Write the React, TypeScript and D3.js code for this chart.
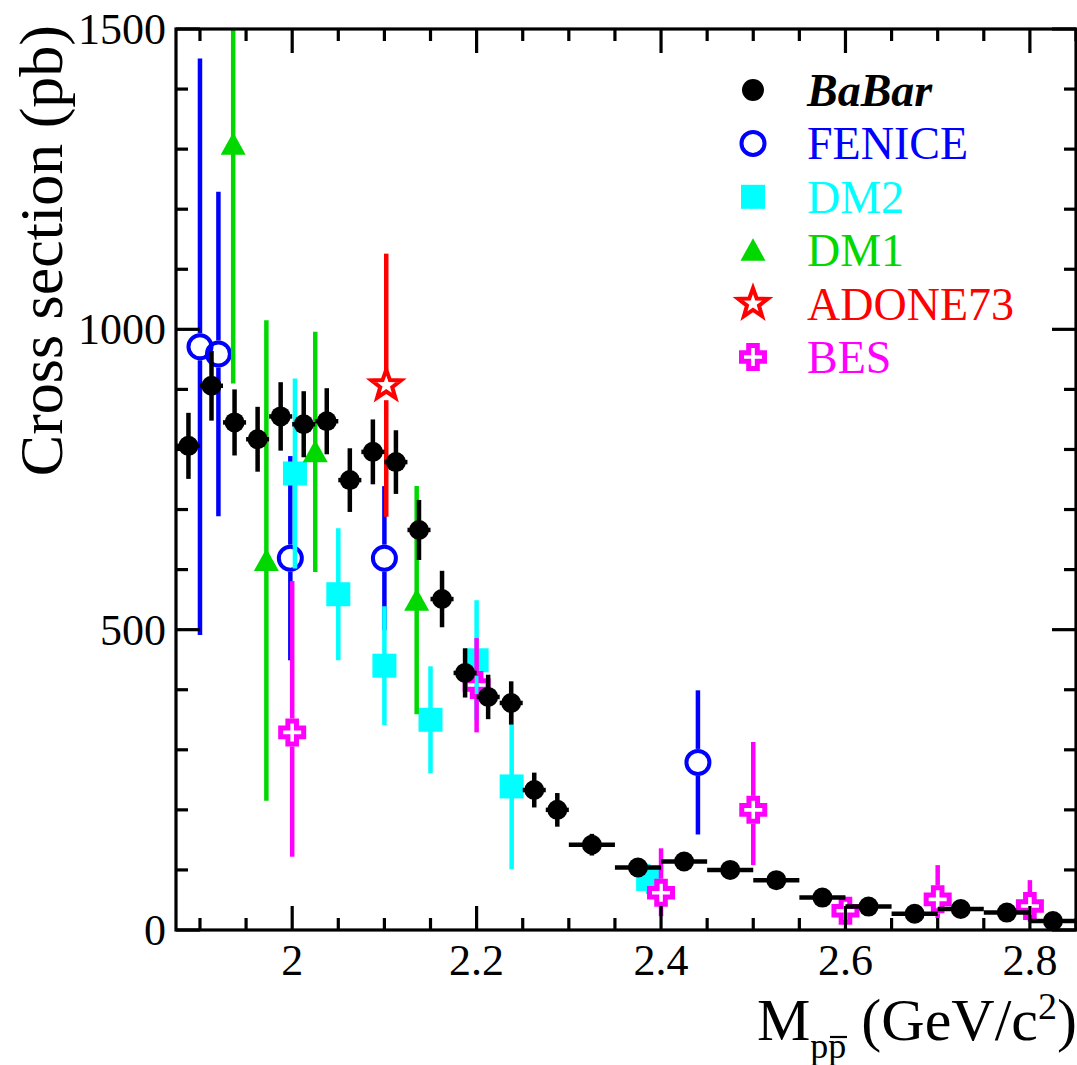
import { useEffect, useRef } from 'react';
import * as d3 from 'd3';

// BaBar measurement (bin centers, cross section, stat error, half bin width)
const babarMass = [1.8875, 1.9125, 1.9375, 1.9625, 1.9875, 2.0125, 2.0375, 2.0625, 2.0875, 2.1125, 2.1375, 2.1625, 2.1875, 2.2125, 2.2375, 2.2625, 2.2875, 2.325, 2.375, 2.425, 2.475, 2.525, 2.575, 2.625, 2.675, 2.725, 2.775, 2.825];
const babarXsec = [806, 906, 845, 817, 855, 842, 847, 749, 796, 779, 666, 551, 428, 388, 378, 233, 200, 142, 104, 114, 100, 83, 54, 39, 27, 35, 29, 15];
const babarErr = [55, 58, 55, 54, 57, 55, 55, 53, 54, 53, 50, 47, 41, 37, 36, 29, 28, 18, 12, 12, 10, 9, 7, 6, 5, 5, 5, 4];
const babarHalfBin = [0.0125, 0.0125, 0.0125, 0.0125, 0.0125, 0.0125, 0.0125, 0.0125, 0.0125, 0.0125, 0.0125, 0.0125, 0.0125, 0.0125, 0.0125, 0.0125, 0.0125, 0.025, 0.025, 0.025, 0.025, 0.025, 0.025, 0.025, 0.025, 0.025, 0.025, 0.025];

const feniceMass = [1.9, 1.92, 1.998, 2.1, 2.44];
const feniceXsec = [971, 959, 619, 619, 279];
const feniceErr = [480, 270, 170, 120, 120];

const dm2Mass = [2.003, 2.05, 2.1, 2.15, 2.2, 2.238, 2.386];
const dm2Xsec = [760, 559, 440, 350, 449, 239, 85];
const dm2Err = [158, 110, 99, 89, 100, 138, 25];

const dm1Mass = [1.936, 1.972, 2.025, 2.135];
const dm1Xsec = [1308, 615, 796, 549];
const dm1Err = [398, 400, 200, 190];

const adoneMass = [2.102];
const adoneXsec = [907];
const adoneErr = [219];

const besMass = [2.0, 2.2, 2.4, 2.5, 2.6, 2.7, 2.8];
const besXsec = [329, 408, 62, 200, 32, 51, 40];
const besErrLo = [207, 79, 39, 92, 15, 31, 26];
const besErrHi = [252, 78, 74, 113, 15, 57, 43];

const xTicks = [2, 2.2, 2.4, 2.6, 2.8];
const xTickLabels = ['2', '2.2', '2.4', '2.6', '2.8'];
const yTicks = [0, 500, 1000, 1500];
const yTickLabels = ['0', '500', '1000', '1500'];

const legendLabels = ['BaBar', 'FENICE', 'DM2', 'DM1', 'ADONE73', 'BES'];

const BLUE = '#0000ff';
const CYAN = '#00ffff';
const GREEN = '#00d800';
const RED = '#ff0000';
const MAGENTA = '#ff00ff';
const FONT = "'Liberation Serif', 'Times New Roman', Times, serif";

export default function App() {
    const svgRef = useRef<SVGSVGElement>(null);

    useEffect(() => {
        if (!svgRef.current) return;
        const svg = d3.select(svgRef.current);
        svg.selectAll('*').remove();

        const W = 1077, H = 1065;
        const left = 176, right = 1076, top = 29, bottom = 930;

        const x = d3.scaleLinear().domain([1.874, 2.85]).range([left, right]);
        const y = d3.scaleLinear().domain([0, 1500]).range([bottom, top]);

        svg.attr('width', W).attr('height', H);
        svg.append('rect').attr('width', W).attr('height', H).attr('fill', '#fff');

        svg.append('defs').append('clipPath').attr('id', 'plot-clip')
            .append('rect')
            .attr('x', left).attr('y', top)
            .attr('width', right - left).attr('height', bottom - top);

        const plot = svg.append('g').attr('clip-path', 'url(#plot-clip)');

        // vertical error bar, optionally leaving a gap round an open marker
        const vbar = (g, cx, v, lo, hi, color, gap = 0) => {
            const cy = y(v);
            const y1 = y(v + hi), y2 = y(v - lo);
            if (gap > 0) {
                if (y1 < cy - gap) g.append('line').attr('x1', cx).attr('x2', cx).attr('y1', y1).attr('y2', cy - gap)
                    .attr('stroke', color).attr('stroke-width', 4.5);
                if (y2 > cy + gap) g.append('line').attr('x1', cx).attr('x2', cx).attr('y1', cy + gap).attr('y2', y2)
                    .attr('stroke', color).attr('stroke-width', 4.5);
            } else {
                g.append('line').attr('x1', cx).attr('x2', cx).attr('y1', y1).attr('y2', y2)
                    .attr('stroke', color).attr('stroke-width', 4.5);
            }
        };

        const drawOpenCircle = (g, cx, cy) => g.append('circle')
            .attr('cx', cx).attr('cy', cy).attr('r', 11.5)
            .attr('fill', 'none').attr('stroke', BLUE).attr('stroke-width', 4);
        const drawSquare = (g, cx, cy) => g.append('rect')
            .attr('x', cx - 12).attr('y', cy - 12).attr('width', 24).attr('height', 24)
            .attr('fill', CYAN);
        const drawTriangle = (g, cx, cy) => g.append('path')
            .attr('d', `M${cx},${cy - 12}L${cx + 12.5},${cy + 10.5}L${cx - 12.5},${cy + 10.5}Z`)
            .attr('fill', GREEN);
        const starPts = (cx, cy) => d3.range(10).map(i => {
            const r = i % 2 === 0 ? 15.5 : 6.3;
            const a = -Math.PI / 2 + i * Math.PI / 5;
            return [cx + r * Math.cos(a), cy + r * Math.sin(a)];
        });
        const drawStar = (g, cx, cy) => g.append('path')
            .attr('d', 'M' + starPts(cx, cy).map(p => p.join(',')).join('L') + 'Z')
            .attr('fill', 'none').attr('stroke', RED).attr('stroke-width', 4)
            .attr('stroke-linejoin', 'miter');
        const crossPts = (cx, cy) => {
            const L = 11.5, a = 4.3;
            return [[-a, -L], [a, -L], [a, -a], [L, -a], [L, a], [a, a], [a, L], [-a, L], [-a, a], [-L, a], [-L, -a], [-a, -a]]
                .map(p => [cx + p[0], cy + p[1]]);
        };
        const drawCross = (g, cx, cy) => g.append('path')
            .attr('d', 'M' + crossPts(cx, cy).map(p => p.join(',')).join('L') + 'Z')
            .attr('fill', 'none').attr('stroke', MAGENTA).attr('stroke-width', 5);
        const drawDot = (g, cx, cy, r = 10) => g.append('circle')
            .attr('cx', cx).attr('cy', cy).attr('r', r).attr('fill', '#000');

        // FENICE
        feniceMass.forEach((m, i) => {
            vbar(plot, x(m), feniceXsec[i], feniceErr[i], feniceErr[i], BLUE, 13.5);
            drawOpenCircle(plot, x(m), y(feniceXsec[i]));
        });

        // DM2
        dm2Mass.forEach((m, i) => {
            vbar(plot, x(m), dm2Xsec[i], dm2Err[i], dm2Err[i], CYAN);
            drawSquare(plot, x(m), y(dm2Xsec[i]));
        });

        // DM1
        dm1Mass.forEach((m, i) => {
            vbar(plot, x(m), dm1Xsec[i], dm1Err[i], dm1Err[i], GREEN);
            drawTriangle(plot, x(m), y(dm1Xsec[i]));
        });

        // ADONE73
        adoneMass.forEach((m, i) => {
            vbar(plot, x(m), adoneXsec[i], adoneErr[i], adoneErr[i], RED, 15);
            drawStar(plot, x(m), y(adoneXsec[i]));
        });

        // BES
        besMass.forEach((m, i) => {
            vbar(plot, x(m), besXsec[i], besErrLo[i], besErrHi[i], MAGENTA, 14);
            drawCross(plot, x(m), y(besXsec[i]));
        });

        // BaBar on top
        babarMass.forEach((m, i) => {
            const cx = x(m), cy = y(babarXsec[i]);
            plot.append('line')
                .attr('x1', x(m - babarHalfBin[i])).attr('x2', x(m + babarHalfBin[i]))
                .attr('y1', cy).attr('y2', cy)
                .attr('stroke', '#000').attr('stroke-width', 4.5);
            vbar(plot, cx, babarXsec[i], babarErr[i], babarErr[i], '#000');
            drawDot(plot, cx, cy);
        });

        // Frame
        const axes = svg.append('g').attr('stroke', '#000').attr('stroke-width', 3.2);
        axes.append('rect')
            .attr('x', left).attr('y', top)
            .attr('width', right - left).attr('height', bottom - top)
            .attr('fill', 'none');

        // x ticks: major every 0.2, minor every 0.05
        const xMinor = d3.range(1.9, 2.851, 0.05);
        xMinor.forEach(t => {
            const isMajor = xTicks.some(m => Math.abs(m - t) < 1e-6);
            const len = isMajor ? 24 : 12;
            const px = x(t);
            axes.append('line').attr('x1', px).attr('x2', px).attr('y1', bottom).attr('y2', bottom - len);
            axes.append('line').attr('x1', px).attr('x2', px).attr('y1', top).attr('y2', top + len);
        });

        // y ticks: major every 500, minor every 100
        d3.range(0, 1501, 100).forEach(t => {
            const len = t % 500 === 0 ? 24 : 12;
            const py = y(t);
            axes.append('line').attr('x1', left).attr('x2', left + len).attr('y1', py).attr('y2', py);
            axes.append('line').attr('x1', right).attr('x2', right - len).attr('y1', py).attr('y2', py);
        });

        // tick labels
        const labels = svg.append('g').style('font-family', FONT).attr('fill', '#000');
        xTicks.forEach((t, i) => {
            labels.append('text')
                .attr('x', x(t)).attr('y', 975)
                .attr('text-anchor', 'middle').attr('font-size', 44)
                .text(xTickLabels[i]);
        });
        yTicks.forEach((t, i) => {
            labels.append('text')
                .attr('x', 166).attr('y', y(t) + 15)
                .attr('text-anchor', 'end').attr('font-size', 44)
                .text(yTickLabels[i]);
        });

        // axis titles
        labels.append('text')
            .attr('transform', 'translate(62,25) rotate(-90)')
            .attr('text-anchor', 'end').attr('font-size', 62)
            .text('Cross section (pb)');

        const xt = labels.append('text').attr('x', 757).attr('y', 1040).attr('font-size', 60);
        xt.append('tspan').text('M');
        xt.append('tspan').attr('dy', 18).attr('font-size', 36).text('pp');
        xt.append('tspan').attr('dy', -18).text(' (GeV/c');
        xt.append('tspan').attr('dy', -21).attr('font-size', 38).text('2');
        xt.append('tspan').attr('dy', 21).text(')');
        // antiproton bar over the second p
        labels.append('line')
            .attr('x1', 830).attr('x2', 847).attr('y1', 1037).attr('y2', 1037)
            .attr('stroke', '#000').attr('stroke-width', 2.2);

        // Legend
        const legend = svg.append('g').style('font-family', FONT);
        const legendColors = ['#000', BLUE, CYAN, GREEN, RED, MAGENTA];
        const drawers = [(g, cx, cy) => drawDot(g, cx, cy, 11), drawOpenCircle, drawSquare, drawTriangle, drawStar, drawCross];
        legendLabels.forEach((lab, i) => {
            const cy = 90 + i * 53.4;
            drawers[i](legend, 753, cy);
            const t = legend.append('text')
                .attr('x', 807).attr('y', cy + 16)
                .attr('font-size', 46)
                .attr('fill', legendColors[i])
                .text(lab);
            if (i === 0) t.attr('font-weight', 'bold').attr('font-style', 'italic');
        });
    }, []);

    return (
        <svg ref={svgRef} style={{ position: 'absolute', left: 0, top: 0, display: 'block' }} />
    );
}
